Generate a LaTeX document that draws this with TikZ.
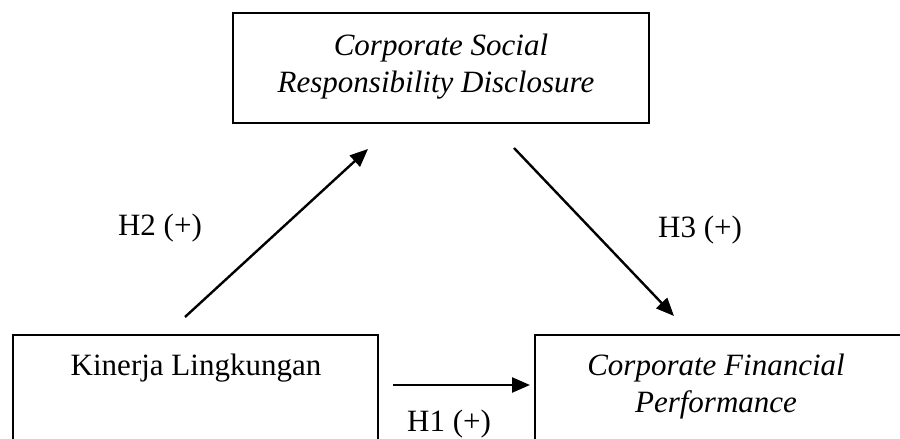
\documentclass[tikz,border=0pt]{standalone}
\usepackage{fontspec}
\setmainfont{Liberation Serif}
\usetikzlibrary{arrows.meta}
\begin{document}
\begin{tikzpicture}[x=1pt,y=-1pt,
  box/.style={draw, line width=1.6pt, inner sep=0pt},
  lbl/.style={font=\fontsize{31}{35}\selectfont, inner sep=0pt, anchor=base},
  conn/.style={line width=2.4pt, -{Triangle[length=18pt,width=15pt]}}]
\useasboundingbox (0,0) rectangle (900,439);
\clip (0,0) rectangle (900,439);
% boxes
\node[box, minimum width=416pt, minimum height=110pt] (csrd) at (441,68) {};
\node[box, minimum width=365pt, minimum height=135pt] (kl) at (195.5,402.5) {};
\node[box, minimum width=375pt, minimum height=135pt] (cfp) at (722.5,402.5) {};
% texts
\node[lbl] (csrd1) at (441,55) {\itshape Corporate Social};
\node[lbl] (csrd2) at (436,92) {\itshape Responsibility Disclosure};
\node[lbl] (kl1) at (196,375) {Kinerja Lingkungan};
\node[lbl] (cfp1) at (716,375) {\itshape Corporate Financial};
\node[lbl] (cfp2) at (716,412) {\itshape Performance};
% connector labels
\node[lbl] (h2) at (160,235) {H2 (+)};
\node[lbl] (h3) at (700,237) {H3 (+)};
\node[lbl] (h1) at (449,431) {H1 (+)};
% connectors
\coordinate (h2s) at (185,317);
\coordinate (h2e) at (368,149);
\coordinate (h3s) at (514,148);
\coordinate (h3e) at (674,316);
\coordinate (h1s) at (393,385);
\coordinate (h1e) at (530,385);
\draw[conn] (h2s) -- (h2e);
\draw[conn] (h3s) -- (h3e);
\draw[conn] (h1s) -- (h1e);
\end{tikzpicture}
\end{document}
